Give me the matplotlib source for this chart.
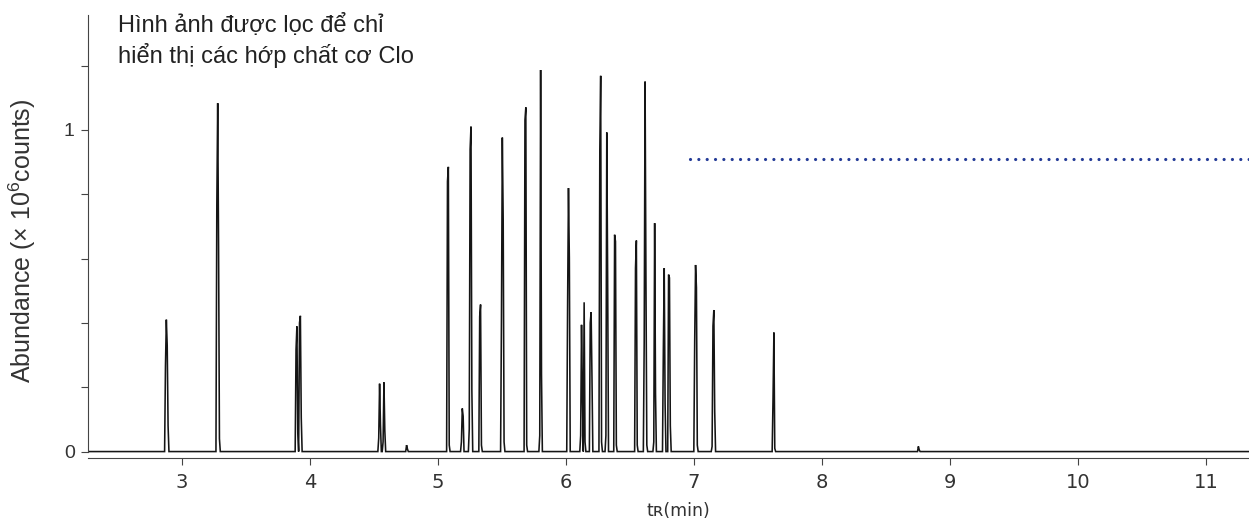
import numpy as np
import matplotlib.pyplot as plt
from matplotlib.ticker import MultipleLocator

plt.rcParams['mathtext.fontset'] = 'custom'
plt.rcParams['mathtext.rm'] = 'Liberation Sans'

# Chromatogram peaks: apex retention time (min) and consecutive scan heights (x 10^6 counts)
peak_rt = [2.875, 3.276, 3.899, 3.923, 4.547, 4.578, 4.755, 5.081, 5.190, 5.260,
           5.336, 5.500, 5.688, 5.800, 6.018, 6.120, 6.140, 6.196, 6.270, 6.320,
           6.383, 6.552, 6.617, 6.696, 6.768, 6.800, 7.010, 7.157, 7.623, 8.755]
peak_scans = [
    [0.265, 0.41, 0.33, 0.08],
    [0.767, 1.083, 0.638, 0.04],
    [0.317, 0.389, 0.06],
    [0.40, 0.422, 0.105],
    [0.042, 0.211, 0.084],
    [0.03, 0.215, 0.065],
    [0.02, 0.008],
    [0.84, 0.885, 0.02],
    [0.03, 0.134, 0.11],
    [0.07, 0.94, 1.01, 0.19],
    [0.42, 0.457, 0.02],
    [0.41, 0.976, 0.72, 0.03],
    [1.03, 1.07, 0.02],
    [0.05, 1.186, 0.24],
    [0.46, 0.819, 0.60],
    [0.05, 0.394, 0.18],
    [0.464, 0.03],
    [0.40, 0.433, 0.23],
    [0.938, 1.168, 0.03],
    [0.05, 0.992, 0.54],
    [0.674, 0.653, 0.02],
    [0.57, 0.656, 0.02],
    [0.34, 1.15, 0.534, 0.02],
    [0.03, 0.71, 0.18],
    [0.32, 0.57, 0.15],
    [0.55, 0.54, 0.08],
    [0.34, 0.58, 0.51, 0.02],
    [0.016, 0.39, 0.44, 0.125],
    [0.164, 0.37, 0.01],
    [0.016, 0.005],
]

# acquisition range and scan interval (min)
t_start, t_end = 2.266, 11.336
scan_step = 0.0068

# threshold level (dotted line)
threshold = 0.91
threshold_start = 6.97

title_lines = ['Hình ảnh được lọc để chỉ', 'hiển thị các hớp chất cơ Clo']
ylabel_text = r'Abundance (× 10$^{\mathregular{6}}$counts)'
xlabel_text = 'tʀ(min)'
xticks = [3, 4, 5, 6, 7, 8, 9, 10, 11]


def build_trace(rts, scans):
    t = np.arange(t_start, t_end + scan_step, scan_step)
    y = np.zeros_like(t)
    for rt, s in zip(rts, scans):
        i_apex = int(round((rt - t_start) / scan_step))
        k = int(np.argmax(s))
        for j, v in enumerate(s):
            idx = i_apex + j - k
            y[idx] = max(y[idx], v)
    return t, y


t, y = build_trace(peak_rt, peak_scans)

W, H = 1249, 519
fig = plt.figure(figsize=(W / 100, H / 100), dpi=100)
ax = fig.add_axes([88 / W, 61 / H, 1 - 88 / W, 443 / H])

ax.plot(t, y, color='#151515', lw=1.15, solid_joinstyle='miter')
ax.plot([threshold_start, t_end], [threshold, threshold], color='#243b97',
        lw=2.3, linestyle=(0, (0.01, 2.6)), dash_capstyle='round')

ax.set_xlim(t_start, t_end)
ax.set_ylim(-0.02, 1.357)

for side in ['top', 'right']:
    ax.spines[side].set_visible(False)
for side in ['left', 'bottom']:
    ax.spines[side].set_color('#444444')
    ax.spines[side].set_linewidth(0.8)
ax.spines['left'].set_bounds(0, 1.357)

ax.set_xticks(xticks)
ax.set_xticklabels([str(v) for v in xticks], family='DejaVu Sans', fontsize=14, color='#333333')
ax.yaxis.set_major_locator(MultipleLocator(1))
ax.yaxis.set_minor_locator(MultipleLocator(0.2))
ax.set_yticklabels([], minor=True)
for lab in ax.get_yticklabels():
    lab.set_family('Liberation Sans')
    lab.set_fontsize(14)
    lab.set_color('#333333')
ax.tick_params(axis='x', length=5, width=0.8, color='#444444', pad=6)
ax.tick_params(axis='y', which='both', length=5, width=0.8, color='#444444', pad=4.5)

fig.text(678 / W, 1 - 516 / H, xlabel_text, family='DejaVu Sans', fontsize=12.5,
         color='#333333', ha='center', va='baseline')

fig.text(118 / W, 1 - 32 / H, title_lines[0], family='Liberation Sans', fontsize=17,
         color='#222222', va='baseline', ha='left')
fig.text(118 / W, 1 - 63 / H, title_lines[1], family='Liberation Sans', fontsize=17,
         color='#222222', va='baseline', ha='left')
fig.text(22 / W, 1 - 241 / H, ylabel_text, family='Liberation Sans', fontsize=18,
         color='#333333', rotation=90, va='center', ha='center')

fig.savefig('out.png', dpi=100)
